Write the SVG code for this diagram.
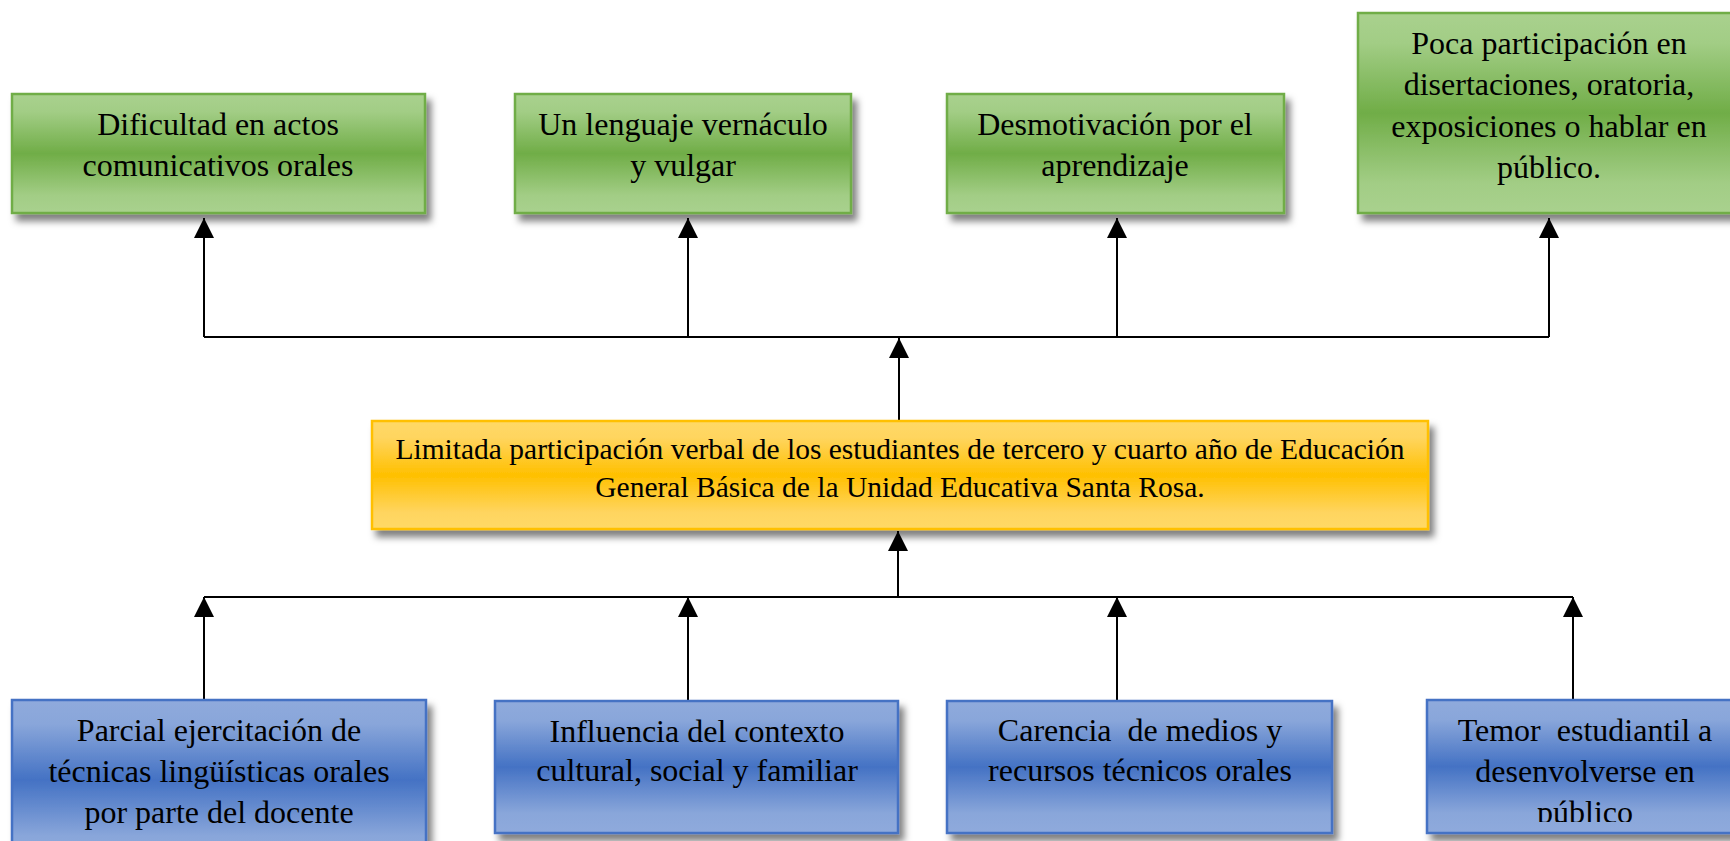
<svg xmlns="http://www.w3.org/2000/svg" width="1730" height="841" viewBox="0 0 1730 841">
<style>
  .t { font-family: "Liberation Serif", "Times New Roman", serif; font-size: 32px; fill: #000; text-anchor: middle; }
  .ty { font-family: "Liberation Serif", "Times New Roman", serif; font-size: 29.5px; fill: #000; text-anchor: middle; }
  .g { fill: url(#gGreen); stroke: #70ad47; stroke-width: 2.5; filter: url(#sh); }
  .y { fill: url(#gYellow); stroke: #ffc000; stroke-width: 2.5; filter: url(#sh); }
  .b { fill: url(#gBlue); stroke: #4472c4; stroke-width: 2.5; filter: url(#sh); }
  .ln { stroke: #000; stroke-width: 2; fill: none; }
</style>
<defs>
  <linearGradient id="gGreen" x1="0" y1="0" x2="0" y2="1">
    <stop offset="0" stop-color="#a9d18e"/>
    <stop offset="0.15" stop-color="#a2cd85"/>
    <stop offset="0.5" stop-color="#70ad47"/>
    <stop offset="0.85" stop-color="#a2cd85"/>
    <stop offset="1" stop-color="#a9d18e"/>
  </linearGradient>
  <linearGradient id="gYellow" x1="0" y1="0" x2="0" y2="1">
    <stop offset="0" stop-color="#ffd966"/>
    <stop offset="0.15" stop-color="#ffd560"/>
    <stop offset="0.5" stop-color="#ffc000"/>
    <stop offset="0.85" stop-color="#ffd560"/>
    <stop offset="1" stop-color="#ffd966"/>
  </linearGradient>
  <linearGradient id="gBlue" x1="0" y1="0" x2="0" y2="1">
    <stop offset="0" stop-color="#8faadc"/>
    <stop offset="0.15" stop-color="#89a6da"/>
    <stop offset="0.5" stop-color="#4472c4"/>
    <stop offset="0.85" stop-color="#89a6da"/>
    <stop offset="1" stop-color="#8faadc"/>
  </linearGradient>
  <filter id="sh" x="-5%" y="-10%" width="115%" height="130%">
    <feDropShadow dx="5" dy="7" stdDeviation="3.5" flood-color="#000" flood-opacity="0.5"/>
  </filter>
  <marker id="ah" markerWidth="20" markerHeight="20" refX="20" refY="10" orient="auto" markerUnits="userSpaceOnUse">
    <path d="M0,0 L20,10 L0,20 Z" fill="#000"/>
  </marker>
  <clipPath id="clipB4"><rect x="1427" y="700" width="320" height="122"/></clipPath>
</defs>

<g id="connectors">
  <path class="ln" d="M204,337 H1549"/>
  <path class="ln" d="M204,337 V218" marker-end="url(#ah)"/>
  <path class="ln" d="M688,337 V218" marker-end="url(#ah)"/>
  <path class="ln" d="M1117,337 V218" marker-end="url(#ah)"/>
  <path class="ln" d="M1549,337 V218" marker-end="url(#ah)"/>
  <path class="ln" d="M899,420 V338" marker-end="url(#ah)"/>
  <path class="ln" d="M898,597 V531" marker-end="url(#ah)"/>
  <path class="ln" d="M204,597 H1573"/>
  <path class="ln" d="M204,700 V597" marker-end="url(#ah)"/>
  <path class="ln" d="M688,700 V597" marker-end="url(#ah)"/>
  <path class="ln" d="M1117,700 V597" marker-end="url(#ah)"/>
  <path class="ln" d="M1573,700 V597" marker-end="url(#ah)"/>
</g>

<g id="e1">
  <rect class="g" x="12" y="94" width="413" height="119"/>
  <text class="t" x="218" y="135">Dificultad en actos</text>
  <text class="t" x="218" y="176">comunicativos orales</text>
</g>
<g id="e2">
  <rect class="g" x="515" y="94" width="336" height="119"/>
  <text class="t" x="683" y="135">Un lenguaje vernáculo</text>
  <text class="t" x="683" y="176">y vulgar</text>
</g>
<g id="e3">
  <rect class="g" x="947" y="94" width="337" height="119"/>
  <text class="t" x="1115" y="135">Desmotivación por el</text>
  <text class="t" x="1115" y="176">aprendizaje</text>
</g>
<g id="e4">
  <rect class="g" x="1358" y="13" width="383" height="200"/>
  <text class="t" x="1549" y="54">Poca participación en</text>
  <text class="t" x="1549" y="95">disertaciones, oratoria,</text>
  <text class="t" x="1549" y="137">exposiciones o hablar en</text>
  <text class="t" x="1549" y="178">público.</text>
</g>

<g id="problem">
  <rect class="y" x="372" y="421" width="1056" height="108"/>
  <text class="ty" x="900" y="459">Limitada participación verbal de los estudiantes de tercero y cuarto año de Educación</text>
  <text class="ty" x="900" y="497">General Básica de la Unidad Educativa Santa Rosa.</text>
</g>

<g id="c1">
  <rect class="b" x="12" y="700" width="414" height="160"/>
  <text class="t" x="219" y="741">Parcial ejercitación de</text>
  <text class="t" x="219" y="782">técnicas lingüísticas orales</text>
  <text class="t" x="219" y="823">por parte del docente</text>
</g>
<g id="c2">
  <rect class="b" x="495" y="701" width="403" height="132"/>
  <text class="t" x="697" y="742">Influencia del contexto</text>
  <text class="t" x="697" y="781">cultural, social y familiar</text>
</g>
<g id="c3">
  <rect class="b" x="947" y="701" width="385" height="132"/>
  <text class="t" x="1140" y="741" xml:space="preserve">Carencia  de medios y</text>
  <text class="t" x="1140" y="781">recursos técnicos orales</text>
</g>
<g id="c4">
  <rect class="b" x="1427" y="700" width="316" height="133"/>
  <g clip-path="url(#clipB4)">
    <text class="t" x="1585" y="741" xml:space="preserve">Temor  estudiantil a</text>
    <text class="t" x="1585" y="782">desenvolverse en</text>
    <text class="t" x="1585" y="823">público</text>
  </g>
</g>
</svg>
